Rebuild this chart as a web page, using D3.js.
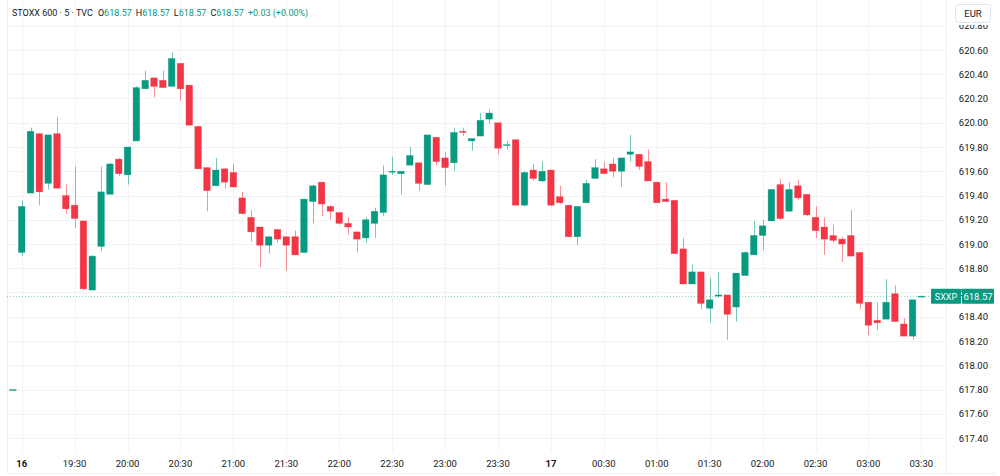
<!DOCTYPE html>
<html>
<head>
<meta charset="utf-8">
<script src="https://cdn.jsdelivr.net/npm/d3@7"></script>
<style>
  body { margin: 0; background: #fff; }
  text { font-family: Roboto, "Noto Sans", sans-serif; }
</style>
</head>
<body>
<script>
// 5 minute bars, STOXX 600, from 16 19:00 to 17 03:25
const opens  = [618.93,619.42,619.91,619.50,619.91,619.40,619.32,619.19,618.62,618.98,
                619.41,619.70,619.57,619.85,620.28,620.37,620.35,620.30,620.49,620.31,
                619.97,619.63,619.48,619.62,619.59,619.38,619.22,619.14,618.99,619.12,
                619.06,619.06,618.93,619.35,619.51,619.31,619.26,619.17,619.10,619.05,
                619.17,619.26,619.60,619.58,619.65,619.67,619.49,619.88,619.71,619.67,
                619.93,619.85,619.89,620.03,620.00,619.82,619.86,619.32,619.61,619.52,
                619.61,619.39,619.32,619.06,619.34,619.54,619.62,619.66,619.60,619.74,
                619.74,619.68,619.51,619.37,619.36,618.96,618.67,618.77,618.47,618.57,
                618.58,618.48,618.74,618.91,619.07,619.19,619.49,619.27,619.48,619.41,
                619.22,619.14,619.07,619.04,619.07,618.93,618.52,618.37,618.38,618.59,
                618.34,618.24];
const highs  = [619.36,619.96,619.91,619.90,620.05,619.49,619.64,619.19,618.91,619.64,
                619.67,619.71,619.80,620.30,620.43,620.37,620.43,620.58,620.49,620.31,
                619.97,619.63,619.71,619.62,619.66,619.43,619.28,619.14,619.06,619.12,
                619.06,619.11,619.37,619.49,619.51,619.32,619.26,619.22,619.10,619.22,
                619.30,619.65,619.72,619.60,619.80,619.67,619.90,619.88,619.76,619.96,
                619.96,619.87,620.08,620.11,620.00,619.85,619.86,619.60,619.66,619.68,
                619.61,619.48,619.32,619.31,619.53,619.70,619.68,619.71,619.71,619.90,
                619.74,619.78,619.51,619.51,619.36,619.05,618.83,618.77,618.72,618.77,
                618.58,618.76,618.94,619.19,619.20,619.45,619.54,619.51,619.53,619.41,
                619.31,619.22,619.16,619.06,619.28,618.93,618.52,618.52,618.71,618.66,
                618.39,618.54];
const lows   = [618.90,619.42,619.32,619.45,619.46,619.25,619.13,618.62,618.62,618.94,
                619.41,619.56,619.49,619.85,620.28,620.21,620.29,620.30,620.18,619.98,
                619.62,619.27,619.48,619.46,619.47,619.25,619.02,618.81,618.92,619.01,
                618.78,618.91,618.93,619.17,619.23,619.20,619.16,619.08,618.93,619.01,
                619.05,619.23,619.57,619.41,619.65,619.44,619.49,619.65,619.48,619.60,
                619.89,619.77,619.89,619.99,619.74,619.78,619.32,619.31,619.52,619.51,
                619.31,619.33,619.06,618.99,619.34,619.54,619.58,619.55,619.47,619.68,
                619.61,619.52,619.34,619.35,618.92,618.67,618.67,618.46,618.35,618.56,
                618.21,618.36,618.74,618.91,618.95,619.19,619.20,619.27,619.36,619.23,
                619.05,618.91,619.01,618.85,618.90,618.46,618.25,618.29,618.38,618.36,
                618.24,618.21];
const closes = [619.31,619.93,619.43,619.90,619.46,619.29,619.21,618.63,618.90,619.43,
                619.66,619.58,619.80,620.29,620.35,620.30,620.29,620.53,620.28,619.98,
                619.62,619.44,619.61,619.51,619.47,619.25,619.10,618.99,619.06,619.04,
                618.99,618.91,619.37,619.48,619.33,619.27,619.17,619.14,619.04,619.20,
                619.27,619.57,619.60,619.60,619.73,619.50,619.90,619.68,619.63,619.92,
                619.92,619.87,620.02,620.08,619.79,619.82,619.32,619.59,619.54,619.60,
                619.32,619.34,619.06,619.31,619.50,619.63,619.58,619.60,619.71,619.76,
                619.64,619.52,619.34,619.35,618.92,618.67,618.77,618.51,618.54,618.58,
                618.42,618.76,618.93,619.07,619.15,619.45,619.21,619.45,619.38,619.24,
                619.11,619.04,619.03,619.00,618.90,618.51,618.33,618.35,618.52,618.36,
                618.24,618.54];
// flat bars at both ends (previous one and the live one)
const prevBarPrice = 617.80;
const lastPrice = 618.57;

const priceTicks = [620.8,620.6,620.4,620.2,620.0,619.8,619.6,619.4,619.2,619.0,
                    618.8,618.6,618.4,618.2,618.0,617.8,617.6,617.4];
const timeLabels = ["16","19:30","20:00","20:30","21:00","21:30","22:00","22:30","23:00",
                    "23:30","17","00:30","01:00","01:30","02:00","02:30","03:00","03:30"];
const barsPerLabel = 6;

const width = 1000, height = 476;
const plotLeft = 7, plotRight = 946, plotBottom = 452;
const up = "#089981", down = "#f23645";

const svg = d3.select("body").append("svg")
  .attr("width", width).attr("height", height);

const x = d3.scaleLinear().domain([0, 101]).range([21.7, 21.7 + 101 * 8.82]);
const y = d3.scaleLinear().domain([617.4, 620.6]).range([438, 50]);

// grid
const grid = svg.append("g");
grid.selectAll("line.h").data(priceTicks).enter().append("line")
  .attr("x1", plotLeft).attr("x2", plotRight)
  .attr("y1", d => Math.round(y(d)) + 0.5).attr("y2", d => Math.round(y(d)) + 0.5)
  .attr("stroke", "#f2f3f5");
grid.selectAll("line.v").data(timeLabels).enter().append("line")
  .attr("x1", (d, i) => Math.round(x(i * barsPerLabel)) + 0.5)
  .attr("x2", (d, i) => Math.round(x(i * barsPerLabel)) + 0.5)
  .attr("y1", 0).attr("y2", plotBottom)
  .attr("stroke", "#f2f3f5");

// frame
svg.append("line").attr("x1", plotLeft + 0.5).attr("x2", plotLeft + 0.5)
  .attr("y1", 0).attr("y2", 473).attr("stroke", "#eef0f3");
svg.append("line").attr("x1", plotLeft).attr("x2", 996)
  .attr("y1", 473.5).attr("y2", 473.5).attr("stroke", "#eef0f3");
svg.append("line").attr("x1", plotRight + 0.5).attr("x2", plotRight + 0.5)
  .attr("y1", 0).attr("y2", 473).attr("stroke", "#eef0f3");

// current price line
svg.append("line")
  .attr("x1", plotLeft).attr("x2", plotRight)
  .attr("y1", Math.round(y(lastPrice)) + 0.5).attr("y2", Math.round(y(lastPrice)) + 0.5)
  .attr("stroke", up).attr("stroke-opacity", 0.45).attr("stroke-dasharray", "1,2");

// candles
const bars = d3.range(opens.length).map(i => ({
  i, o: opens[i], h: highs[i], l: lows[i], c: closes[i]
}));
bars.unshift({ i: -1, o: prevBarPrice, h: prevBarPrice, l: prevBarPrice, c: prevBarPrice });
bars.push({ i: opens.length, o: lastPrice, h: lastPrice, l: lastPrice, c: lastPrice });

const bodyW = 6.6;
const cg = svg.append("g");
cg.selectAll("line.wick").data(bars).enter().append("line")
  .attr("x1", d => Math.round(x(d.i)) + 0.5).attr("x2", d => Math.round(x(d.i)) + 0.5)
  .attr("y1", d => y(d.h)).attr("y2", d => y(d.l))
  .attr("stroke", d => d.c >= d.o ? up : down)
  .attr("stroke-opacity", 0.55);
cg.selectAll("rect").data(bars).enter().append("rect")
  .attr("x", d => x(d.i) - bodyW / 2)
  .attr("width", bodyW)
  .attr("y", d => y(Math.max(d.o, d.c)))
  .attr("height", d => Math.max(1, Math.abs(y(d.o) - y(d.c))))
  .attr("fill", d => d.c >= d.o ? up : down)
  .attr("stroke", d => d.c >= d.o ? up : down)
  .attr("stroke-opacity", 0.5)
  .attr("stroke-width", 0.6);

// price axis
svg.append("g").selectAll("text").data(priceTicks).enter().append("text")
  .attr("x", 988).attr("y", d => y(d) + 3.5)
  .attr("text-anchor", "end")
  .attr("font-size", 9.5).attr("fill", "#131722")
  .text(d => d.toFixed(2));

// EUR box (covers the top of the 620.80 label)
svg.append("rect").attr("x", 947).attr("y", 0).attr("width", 53).attr("height", 25)
  .attr("fill", "#fff");
svg.append("rect").attr("x", 955.5).attr("y", 4.5).attr("width", 35).attr("height", 18)
  .attr("rx", 3).attr("fill", "#fff").attr("stroke", "#e0e3eb");
svg.append("text").attr("x", 973).attr("y", 17).attr("text-anchor", "middle")
  .attr("font-size", 9.5).attr("fill", "#131722").text("EUR");

// last price labels
const ly = y(lastPrice);
svg.append("rect").attr("x", 931).attr("y", ly - 7.5).attr("width", 30).attr("height", 15)
  .attr("rx", 1).attr("fill", up);
svg.append("text").attr("x", 946).attr("y", ly + 3.5).attr("text-anchor", "middle")
  .attr("font-size", 9).attr("fill", "#fff").text("SXXP");
svg.append("rect").attr("x", 962).attr("y", ly - 7.5).attr("width", 32).attr("height", 15)
  .attr("rx", 1).attr("fill", up);
svg.append("text").attr("x", 978).attr("y", ly + 3.5).attr("text-anchor", "middle")
  .attr("font-size", 9.5).attr("fill", "#fff").text(lastPrice.toFixed(2));

// time axis
svg.append("g").selectAll("text").data(timeLabels).enter().append("text")
  .attr("x", (d, i) => x(i * barsPerLabel))
  .attr("y", 467)
  .attr("text-anchor", "middle")
  .attr("font-size", 9.5)
  .attr("font-weight", d => d.length <= 2 ? "bold" : "normal")
  .attr("fill", "#131722")
  .text(d => d);

// legend header
const hdr = svg.append("text").attr("x", 12).attr("y", 16)
  .attr("font-size", 9).attr("fill", "#131722");
hdr.append("tspan").text("STOXX 600 · 5 · TVC");
const ohlc = [["O", lastPrice], ["H", lastPrice], ["L", lastPrice], ["C", lastPrice]];
ohlc.forEach((p, k) => {
  hdr.append("tspan").attr("dx", k === 0 ? 5 : 4).text(p[0]);
  hdr.append("tspan").attr("fill", up).text(p[1].toFixed(2));
});
hdr.append("tspan").attr("dx", 4).attr("fill", up).text("+0.03 (+0.00%)");
</script>
</body>
</html>
